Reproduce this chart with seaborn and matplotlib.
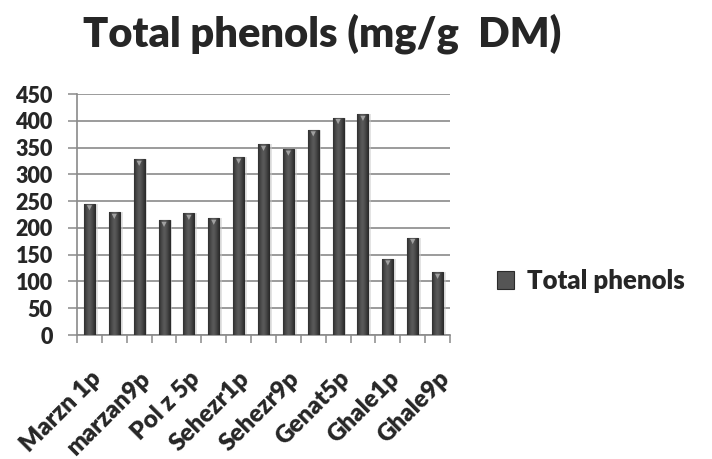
import numpy as np
import pandas as pd
import matplotlib
matplotlib.use("Agg")
import matplotlib.pyplot as plt
import matplotlib.transforms as mtransforms
from matplotlib.patches import Patch
from matplotlib.colors import LinearSegmentedColormap
import seaborn as sns

# Total phenol content per sample (mg/g dry matter)
samples = ["Marzn 1p", "Marzn 5p", "marzan9p",
           "Pol z 1p", "Pol z 5p", "Pol z 9p",
           "Sehezr1p", "Sehezr5p", "Sehezr9p",
           "Genat1p", "Genat5p", "Genat9p",
           "Ghale1p", "Ghale5p", "Ghale9p"]
total_phenols = [245, 229, 328, 214, 227, 218, 332, 356, 347, 383, 406, 412, 142, 182, 117]
y_ticks = [0, 50, 100, 150, 200, 250, 300, 350, 400, 450]
series_name = "Total phenols"
chart_title = "Total phenols (mg/g  DM)"

sns.set_theme(style="white")
plt.rcParams["font.family"] = ["Lato", "DejaVu Sans"]
plt.rcParams["font.weight"] = "heavy"
WEIGHT = "heavy"

W, H = 712, 459
fig = plt.figure(figsize=(W / 100, H / 100), dpi=100)
fig.patch.set_facecolor("white")
ax = fig.add_axes([77 / W, 1 - 335 / H, (450 - 77) / W, (335 - 94) / H])

df = pd.DataFrame({"sample": samples, "value": total_phenols})
sns.barplot(data=df, x="sample", y="value", ax=ax, color="#464646",
            saturation=1, width=0.44, edgecolor="#2b2b2b", linewidth=0.8,
            zorder=3)

# cylinder-like shading inside each bar
shade = LinearSegmentedColormap.from_list(
    "shade", ["#2e2e2e", "#4a4a4a", "#5c5c5c", "#4a4a4a", "#2e2e2e"])
grad = np.linspace(0, 1, 64).reshape(1, -1)
for p in list(ax.patches):
    x0, w, h = p.get_x(), p.get_width(), p.get_height()
    # soft shadow to the right of the bar
    sh = plt.Rectangle((x0 + w, 0), w * 0.25, h, color="#c8c8c8", alpha=0.5,
                       lw=0, zorder=2)
    ax.add_patch(sh)
    im = ax.imshow(grad, extent=[x0, x0 + w, 0, h], aspect="auto", cmap=shade,
                   zorder=3.5, interpolation="bicubic")
    im.set_clip_path(p)

# small light bevel triangle near each bar top
off = mtransforms.offset_copy(ax.transData, fig=fig, y=-4, units="dots")
ax.scatter(np.arange(len(samples)), total_phenols, marker="v", s=14,
           color="#a0a0a0", edgecolor="none", transform=off, zorder=5)

ax.set_xlim(-0.5, len(samples) - 0.5)
ax.set_ylim(0, 450)
ax.set_xlabel("")
ax.set_ylabel("")

grid_c = "#8a8a8a"
ax.set_yticks(y_ticks)
ax.set_yticklabels([str(v) for v in y_ticks], fontsize=15.5, fontweight=WEIGHT)
ax.yaxis.grid(True, color=grid_c, linewidth=1.2, zorder=0)
ax.set_axisbelow(True)
ax.tick_params(axis="y", length=6.5, width=1.1, color=grid_c, pad=11, left=True)

# labels on every other sample, tick marks at category boundaries
major = np.arange(0, len(samples), 2)
ax.set_xticks(major)
ax.set_xticklabels([samples[i] for i in major], rotation=45, ha="right",
                   rotation_mode="anchor", fontsize=17.5, fontweight=WEIGHT)
ax.set_xticks(np.arange(-0.5, len(samples)), minor=True)
ax.tick_params(axis="x", which="major", length=0, pad=23)
ax.tick_params(axis="x", which="minor", length=6, width=1.1, color=grid_c,
               bottom=True)

for s in ["top", "right"]:
    ax.spines[s].set_visible(False)
for s in ["left", "bottom"]:
    ax.spines[s].set_color(grid_c)
    ax.spines[s].set_linewidth(1.2)

fig.text(322 / W, 1 - 46 / H, chart_title, ha="center", va="baseline",
         fontsize=30, fontweight=WEIGHT)

handle = Patch(facecolor="#555555", edgecolor="#2b2b2b", linewidth=0.8)
fig.legend(handles=[handle], labels=[series_name], loc="center left",
           bbox_to_anchor=(497 / W, 1 - 281 / H), frameon=False,
           borderaxespad=0, borderpad=0,
           handlelength=0.68, handleheight=0.68, handletextpad=0.5,
           prop={"size": 18.5, "weight": WEIGHT})

fig.savefig("out.png", dpi=100, facecolor="white")
